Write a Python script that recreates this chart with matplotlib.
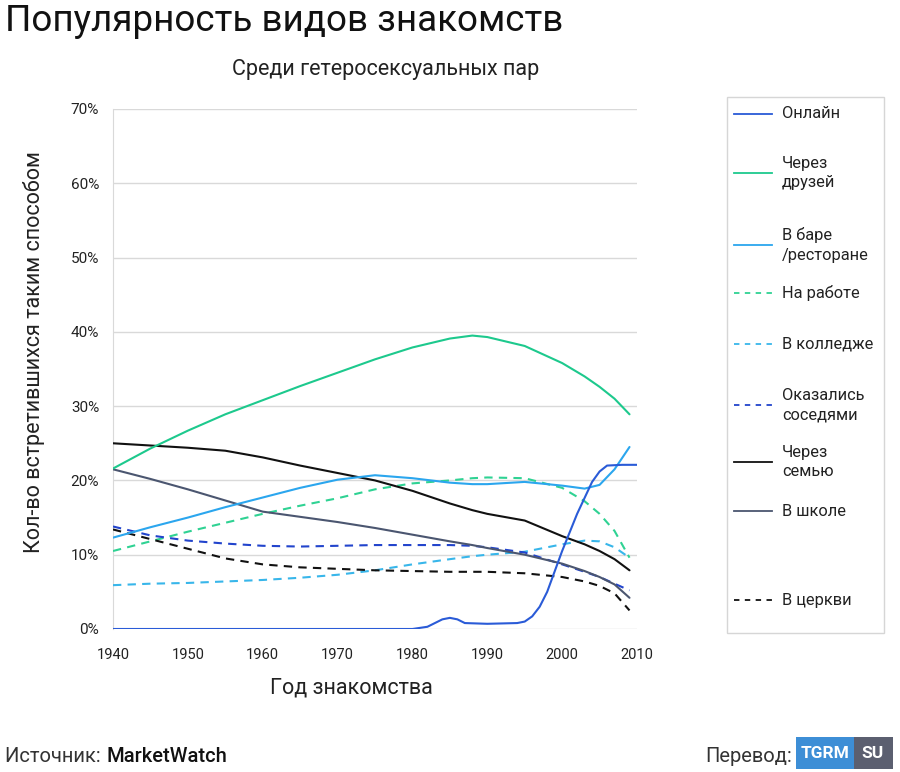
import matplotlib
matplotlib.use("Agg")
import matplotlib.pyplot as plt
from matplotlib.lines import Line2D
from matplotlib.patches import Rectangle

plt.rcParams['font.family'] = ['Roboto', 'DejaVu Sans']

# ---- data (share of couples, %) ----
years_online = [1940, 1980, 1982, 1984, 1985, 1986, 1987, 1990, 1994, 1995, 1996, 1997, 1998, 2000, 2002, 2004, 2005, 2006, 2008, 2010]
online       = [0,    0,    0.3,  1.3,  1.5,  1.3,  0.8,  0.7,  0.8,  1.0,  1.7,  3.0,  5.0, 10.5, 15.5, 19.8, 21.2, 22.0, 22.1, 22.1]

years = [1940, 1945, 1950, 1955, 1960, 1965, 1970, 1975, 1980, 1985, 1988, 1990, 1995, 2000, 2003, 2005, 2007, 2009]
friends    = [21.6, 24.3, 26.7, 28.9, 30.8, 32.7, 34.5, 36.3, 37.9, 39.1, 39.5, 39.3, 38.1, 35.8, 34.0, 32.6, 31.0, 28.9]
bar        = [12.3, 13.7, 15.0, 16.4, 17.7, 19.0, 20.1, 20.7, 20.3, 19.7, 19.5, 19.5, 19.8, 19.3, 18.9, 19.4, 21.5, 24.5]
work       = [10.5, 11.8, 13.1, 14.3, 15.5, 16.6, 17.6, 18.8, 19.6, 20.0, 20.3, 20.4, 20.3, 19.0, 17.2, 15.5, 13.2, 9.6]
college    = [5.9,  6.1,  6.2,  6.4,  6.6,  6.9,  7.3,  7.9,  8.7,  9.4,  9.8,  10.0, 10.4, 11.4, 11.9, 11.8, 11.0, 9.6]
neighbors  = [13.8, 12.6, 11.9, 11.5, 11.2, 11.1, 11.2, 11.3, 11.3, 11.3, 11.2, 11.0, 10.3, 8.7,  7.7,  7.0,  6.1,  5.2]
family     = [25.0, 24.7, 24.4, 24.0, 23.1, 22.0, 21.0, 20.0, 18.6, 16.9, 16.0, 15.5, 14.6, 12.5, 11.4, 10.5, 9.4,  7.9]
school     = [21.5, 20.2, 18.8, 17.3, 15.8, 15.1, 14.4, 13.6, 12.7, 11.8, 11.3, 10.9, 10.0, 8.8,  7.8,  7.0,  6.0,  4.2]
church     = [13.4, 12.1, 10.8, 9.5,  8.7,  8.3,  8.1,  7.9,  7.8,  7.7,  7.7,  7.7,  7.5,  7.0,  6.4,  5.8,  4.8,  2.5]

labels = ["Онлайн", "Через\nдрузей", "В баре\n/ресторане", "На работе", "В колледже",
          "Оказались\nсоседями", "Через\nсемью", "В школе", "В церкви"]
xticks = [1940, 1950, 1960, 1970, 1980, 1990, 2000, 2010]
yticks = [0, 10, 20, 30, 40, 50, 60, 70]

colors = ["#2a5bd7", "#1dc98d", "#2ba6ee", "#2fd293", "#38b6ea", "#2244cc", "#111111", "#4b5670", "#111111"]
styles = ["-", "-", "-", (0, (4, 3)), (0, (4, 3)), (0, (4, 3)), "-", "-", (0, (4, 3))]

fig = plt.figure(figsize=(9, 7.72), dpi=100)
ax = fig.add_axes([113/900, 1-629/772, (637-113)/900, (629-109)/772])

series = [(years_online, online), (years, friends), (years, bar), (years, work), (years, college),
          (years, neighbors), (years, family), (years, school), (years, church)]
order = [4, 3, 8, 5, 7, 6, 2, 1, 0]
for i in order:
    xs, ys = series[i]
    ax.plot(xs, ys, color=colors[i], lw=1.5, linestyle=styles[i], solid_capstyle='round',
            solid_joinstyle='round', zorder=3)

ax.set_xlim(1940, 2010)
ax.set_ylim(0, 70)
ax.set_xticks(xticks)
ax.set_xticklabels([str(t) for t in xticks], fontsize=10.5, color="#222222")
ax.set_yticks(yticks)
ax.set_yticklabels([f"{t}%" for t in yticks], fontsize=11, color="#222222")
ax.tick_params(length=0, pad=10)
ax.tick_params(axis='x', pad=14)
ax.grid(axis='y', color="#d9d9d9", lw=1)
ax.set_axisbelow(True)
for s in ["top", "right", "bottom"]:
    ax.spines[s].set_visible(False)
ax.spines["left"].set_color("#d9d9d9")

# titles and labels
fig.text(5/900, 1-21/772, "Популярность видов знакомств", fontsize=26.5, va='center', ha='left', color="#111111")
fig.text(386/900, 1-70/772, "Среди гетеросексуальных пар", fontsize=15.5, va='center', ha='center', color="#222222")
fig.text(351/900, 1-688/772, "Год знакомства", fontsize=15.5, va='center', ha='center', color="#222222")
fig.text(34/900, 1-352/772, "Кол-во встретившихся таким способом", fontsize=15.5, va='center', ha='center',
         rotation=90, color="#222222")

# legend (manual)
lax = fig.add_axes([0, 0, 1, 1])
lax.set_xlim(0, 900)
lax.set_ylim(772, 0)
lax.axis('off')
lax.add_patch(Rectangle((727, 97), 157, 536, fill=False, ec="#d6d6d6", lw=1))
ly = [114, 173, 245, 293, 344, 405, 462, 511, 600]
for i, y in enumerate(ly):
    lax.add_line(Line2D([734, 772], [y, y], color=colors[i], lw=1.3, linestyle=(0, (3, 3)) if styles[i] != "-" else "-"))
    lax.text(782, y, labels[i], fontsize=11.8, va='center', ha='left', color="#222222", linespacing=1.35)

# footer
lax.text(5, 756, "Источник: ", fontsize=14.5, va='center', ha='left', color="#333333")
lax.text(107, 756, "MarketWatch", fontsize=14.5, va='center', ha='left', color="#111111", fontweight='medium')
lax.text(705, 756, "Перевод:", fontsize=14.5, va='center', ha='left', color="#333333")
lax.add_patch(Rectangle((796, 737), 58, 32, color="#3d8ed6", lw=0))
lax.add_patch(Rectangle((854, 737), 39, 32, color="#5b5f70", lw=0))
lax.text(825, 753, "TGRM", fontsize=12.5, va='center', ha='center', color="white", fontweight='bold')
lax.text(873, 753, "SU", fontsize=12.5, va='center', ha='center', color="white", fontweight='bold')

fig.savefig("out.png", dpi=100, facecolor="white")
